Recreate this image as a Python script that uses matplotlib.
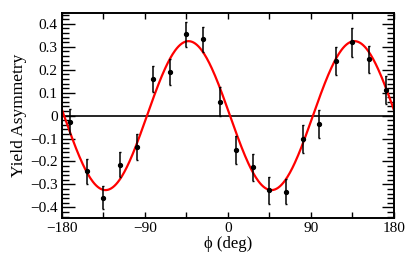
import numpy as np
import matplotlib
matplotlib.use("Agg")
import matplotlib.pyplot as plt
from matplotlib.ticker import MultipleLocator

# Datos
phi = [-171, -153, -135, -117, -99, -81, -63, -45, -27, -9,
       9, 27, 45, 63, 81, 99, 117, 135, 153, 171]
asym = [-0.026, -0.243, -0.359, -0.214, -0.136, 0.160, 0.191, 0.354, 0.332, 0.061,
        -0.149, -0.226, -0.326, -0.332, -0.101, -0.037, 0.238, 0.319, 0.245, 0.112]
err = [0.054, 0.053, 0.050, 0.054, 0.057, 0.057, 0.058, 0.056, 0.055, 0.062,
       0.060, 0.058, 0.060, 0.054, 0.060, 0.062, 0.063, 0.062, 0.060, 0.061]

xticks = [-180, -90, 0, 90, 180]
yticks = [-0.4, -0.3, -0.2, -0.1, 0, 0.1, 0.2, 0.3, 0.4]
ytick_labels = ["\u22120.4", "\u22120.3", "\u22120.2", "\u22120.1", "0", "0.1", "0.2", "0.3", "0.4"]
xtick_labels = ["\u2212180", "\u221290", "0", "90", "180"]

# Ajuste a sin(2phi) y cos(2phi) por minimos cuadrados ponderados
p = np.radians(phi)
w = 1 / np.array(err)
M = np.column_stack([np.sin(2 * p), np.cos(2 * p)])
coef, *_ = np.linalg.lstsq(M * w[:, None], np.array(asym) * w, rcond=None)
xf = np.linspace(-180, 180, 400)
yf = coef[0] * np.sin(2 * np.radians(xf)) + coef[1] * np.cos(2 * np.radians(xf))

plt.rcParams['font.family'] = ['Liberation Serif', 'DejaVu Serif']

fig = plt.figure(figsize=(4.15, 2.57), dpi=100)
ax = fig.add_axes([0.1494, 0.153, 0.7998, 0.796])

ax.axhline(0, color='black', lw=1.2, zorder=1)
ax.plot(xf, yf, color='red', lw=1.6, zorder=2)
ax.errorbar(phi, asym, yerr=err, fmt='o', color='black', ms=2.8,
            elinewidth=1.1, capsize=0.8, zorder=3)

ax.set_xlim(-180, 180)
ax.set_ylim(-0.445, 0.447)
ax.set_xticks(xticks)
ax.set_xticklabels(xtick_labels)
ax.set_yticks(yticks)
ax.set_yticklabels(ytick_labels)
ax.xaxis.set_minor_locator(MultipleLocator(45))
ax.yaxis.set_minor_locator(MultipleLocator(0.02))
ax.tick_params(which='both', direction='in', top=True, right=True, labelsize=11, width=1)
ax.tick_params(axis='x', which='both', length=4, pad=3)
ax.tick_params(axis='y', which='major', length=9, pad=3)
ax.tick_params(axis='y', which='minor', length=5)
for s in ax.spines.values():
    s.set_linewidth(1.4)

ax.set_xlabel('\u03d5 (deg)', fontsize=12, labelpad=1)
ax.set_ylabel('Yield Asymmetry', fontsize=12.5, labelpad=2)

fig.savefig('out.png', dpi=100)
